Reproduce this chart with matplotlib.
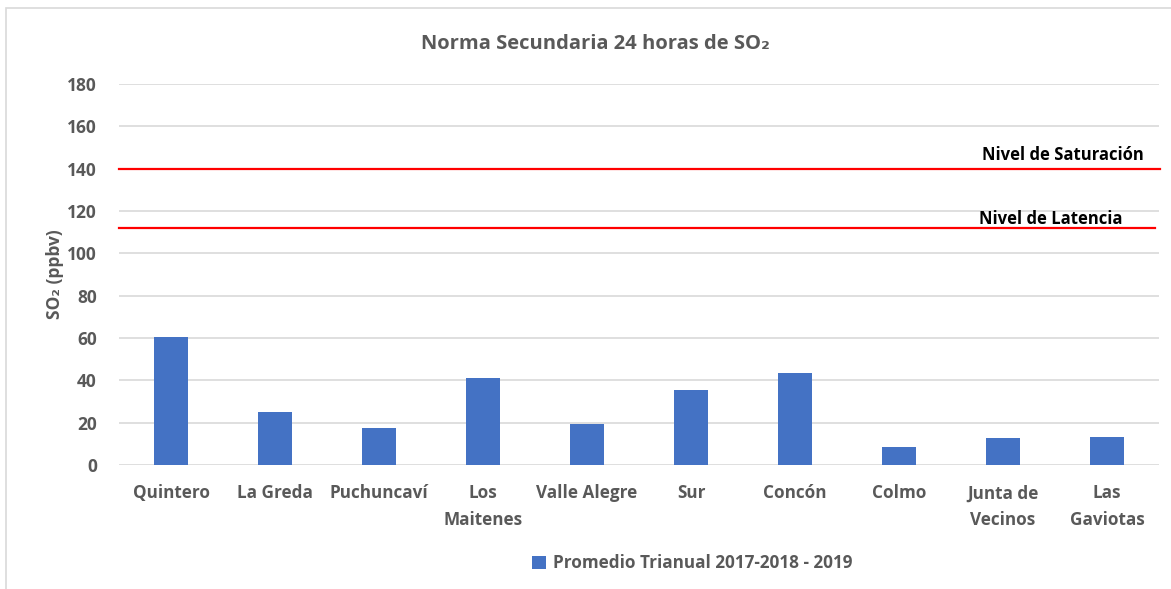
import matplotlib
matplotlib.use("Agg")
import matplotlib.pyplot as plt
import numpy as np
from matplotlib.patches import Rectangle

# data
estaciones = ["Quintero", "La Greda", "Puchuncaví", "Los\nMaitenes", "Valle Alegre",
              "Sur", "Concón", "Colmo", "Junta de\nVecinos", "Las\nGaviotas"]
promedio = [60.5, 25.0, 17.3, 41.2, 19.4, 35.4, 43.6, 8.4, 12.6, 13.0]
nivel_saturacion = 140
nivel_latencia = 112
yticks = [0, 20, 40, 60, 80, 100, 120, 140, 160, 180]

gris = "#595959"
azul = "#4472C4"

plt.rcParams["font.family"] = ["Open Sans", "DejaVu Sans"]
plt.rcParams["font.weight"] = "bold"

fig = plt.figure(figsize=(11.71, 5.89), dpi=100)
ax = fig.add_axes([119 / 1171, 1 - 465 / 589, (1159 - 119) / 1171, (465 - 84) / 589])

x = np.arange(len(estaciones))
ax.bar(x, promedio, width=0.32, color=azul, zorder=3,
       label="Promedio Trianual 2017-2018 - 2019")

ax.set_xlim(-0.5, len(estaciones) - 0.5)
ax.set_ylim(0, 180)
ax.set_yticks(yticks)
ax.grid(axis="y", color="#D9D9D9", linewidth=1.2, zorder=0)
ax.set_xticks(x)
ax.set_xticklabels(estaciones, fontsize=12.3, color=gris, fontweight="bold", linespacing=1.6)
for lbl in ax.get_yticklabels():
    lbl.set_fontsize(12.5)
    lbl.set_color(gris)
    lbl.set_fontweight("bold")
ax.tick_params(length=0, pad=16)
ax.tick_params(axis="x", pad=14)
for s in ax.spines.values():
    s.set_visible(False)

# norm levels
ax.axhline(nivel_saturacion, xmin=0, xmax=1.001, color="#FF0000", linewidth=1.6, zorder=4, clip_on=False)
ax.axhline(nivel_latencia, xmin=0, xmax=0.996, color="#FF0000", linewidth=1.6, zorder=4, clip_on=False)
ax.text(0.985, nivel_saturacion + 2.0, "Nivel de Saturación", transform=ax.get_yaxis_transform(),
        ha="right", va="bottom", fontsize=12, fontweight="bold", color="black")
ax.text(0.965, nivel_latencia - 0.2, "Nivel de Latencia", transform=ax.get_yaxis_transform(),
        ha="right", va="bottom", fontsize=12, fontweight="bold", color="black")

ax.set_ylabel("SO₂ (ppbv)", fontsize=12.5, color=gris, fontweight="bold", labelpad=2)

fig.text(595 / 1171, 1 - 44 / 589, "Norma Secundaria 24 horas de SO₂", ha="center", va="center",
         fontsize=14.5, fontweight="bold", color=gris)

leg = fig.legend(loc="center", bbox_to_anchor=(692 / 1171, 1 - 563 / 589), frameon=False,
                 handlelength=0.8, handleheight=0.8, handletextpad=0.4, fontsize=12.3)
for t in leg.get_texts():
    t.set_color(gris)
    t.set_fontweight("bold")

# chart frame
fig.patches.append(Rectangle((6 / 1171, -0.05), 1.1, 1 - 8 / 589 + 0.05, transform=fig.transFigure,
                             fill=False, edgecolor="#D9D9D9", linewidth=1.2))

fig.savefig("out.png", dpi=100)
